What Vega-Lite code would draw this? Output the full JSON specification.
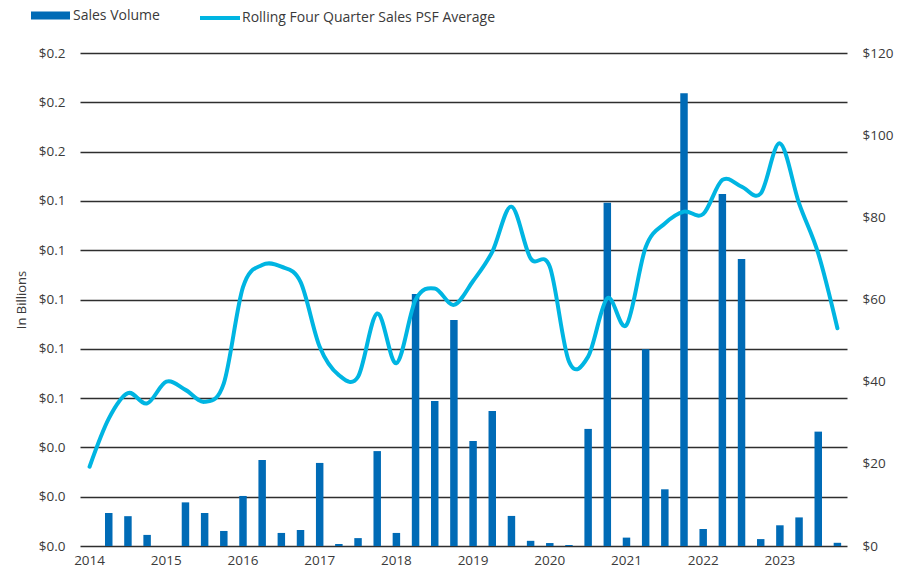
{
  "$schema": "https://vega.github.io/schema/vega-lite/v6.json",
  "width": 767,
  "height": 493,
  "autosize": {"type": "none"},
  "padding": {"left": 80, "top": 53, "right": 62, "bottom": 30},
  "background": "white",
  "config": {
    "font": "Open Sans",
    "view": {"stroke": null},
    "axis": {"labelFont": "Open Sans", "labelFontSize": 13.5, "labelColor": "#3a3a3a", "titleFont": "Open Sans", "titleFontSize": 13, "titleColor": "#3a3a3a", "titleFontWeight": "normal"},
    "legend": {"labelFont": "Open Sans", "labelFontSize": 14, "labelColor": "#3a3a3a", "labelLimit": 500}
  },
  "data": {
    "values": [
      {"quarter": "2014 Q1", "volume": 0, "psf": 19.3},
      {"quarter": "2014 Q2", "volume": 0.0134, "psf": 31.0},
      {"quarter": "2014 Q3", "volume": 0.0121, "psf": 37.2},
      {"quarter": "2014 Q4", "volume": 0.0045, "psf": 34.7},
      {"quarter": "2015 Q1", "volume": 0, "psf": 40.0},
      {"quarter": "2015 Q2", "volume": 0.0177, "psf": 38.0},
      {"quarter": "2015 Q3", "volume": 0.0134, "psf": 35.1},
      {"quarter": "2015 Q4", "volume": 0.0061, "psf": 39.6},
      {"quarter": "2016 Q1", "volume": 0.0203, "psf": 63.0},
      {"quarter": "2016 Q2", "volume": 0.0349, "psf": 68.4},
      {"quarter": "2016 Q3", "volume": 0.0053, "psf": 68.0},
      {"quarter": "2016 Q4", "volume": 0.0065, "psf": 64.3},
      {"quarter": "2017 Q1", "volume": 0.0337, "psf": 48.5},
      {"quarter": "2017 Q2", "volume": 0.0008, "psf": 41.6},
      {"quarter": "2017 Q3", "volume": 0.0032, "psf": 41.2},
      {"quarter": "2017 Q4", "volume": 0.0385, "psf": 56.6},
      {"quarter": "2018 Q1", "volume": 0.0053, "psf": 44.5},
      {"quarter": "2018 Q2", "volume": 0.1022, "psf": 59.9},
      {"quarter": "2018 Q3", "volume": 0.0588, "psf": 62.7},
      {"quarter": "2018 Q4", "volume": 0.0917, "psf": 58.7},
      {"quarter": "2019 Q1", "volume": 0.0426, "psf": 64.5},
      {"quarter": "2019 Q2", "volume": 0.0548, "psf": 71.6},
      {"quarter": "2019 Q3", "volume": 0.0122, "psf": 82.6},
      {"quarter": "2019 Q4", "volume": 0.0021, "psf": 70.0},
      {"quarter": "2020 Q1", "volume": 0.0012, "psf": 68.0},
      {"quarter": "2020 Q2", "volume": 0.0004, "psf": 44.9},
      {"quarter": "2020 Q3", "volume": 0.0475, "psf": 46.1},
      {"quarter": "2020 Q4", "volume": 0.1393, "psf": 60.3},
      {"quarter": "2021 Q1", "volume": 0.0034, "psf": 53.8},
      {"quarter": "2021 Q2", "volume": 0.0798, "psf": 72.7},
      {"quarter": "2021 Q3", "volume": 0.0230, "psf": 78.5},
      {"quarter": "2021 Q4", "volume": 0.1837, "psf": 81.4},
      {"quarter": "2022 Q1", "volume": 0.0069, "psf": 80.8},
      {"quarter": "2022 Q2", "volume": 0.1428, "psf": 89.1},
      {"quarter": "2022 Q3", "volume": 0.1164, "psf": 87.5},
      {"quarter": "2022 Q4", "volume": 0.0028, "psf": 85.8},
      {"quarter": "2023 Q1", "volume": 0.0084, "psf": 98.0},
      {"quarter": "2023 Q2", "volume": 0.0116, "psf": 83.4},
      {"quarter": "2023 Q3", "volume": 0.0464, "psf": 71.2},
      {"quarter": "2023 Q4", "volume": 0.0013, "psf": 53.0}
    ]
  },
  "encoding": {
    "x": {
      "field": "quarter",
      "type": "ordinal",
      "sort": null,
      "scale": {"paddingInner": 0.61, "paddingOuter": 0.305},
      "axis": {
        "title": null,
        "labelAngle": 0,
        "ticks": false,
        "tickSize": 0,
        "domain": false,
        "grid": false,
        "labelPadding": 7,
        "labelExpr": "slice(datum.value, 5) == 'Q1' ? slice(datum.value, 0, 4) : ''"
      }
    }
  },
  "layer": [
    {
      "mark": {"type": "bar", "color": "#006BB6"},
      "encoding": {
        "y": {
          "field": "volume",
          "type": "quantitative",
          "scale": {"domain": [0, 0.2], "nice": false},
          "axis": {
            "orient": "left",
            "title": "In Billions",
            "values": [0, 0.02, 0.04, 0.06, 0.08, 0.1, 0.12, 0.14, 0.16, 0.18, 0.2],
            "format": "$.1f",
            "grid": true,
            "gridColor": "#2e2e2e",
            "gridWidth": 1.3,
            "gridOpacity": 1,
            "domain": false,
            "ticks": false,
            "tickSize": 0,
            "labelPadding": 15,
            "titlePadding": 10
          }
        },
        "color": {
          "datum": "Sales Volume",
          "type": "nominal",
          "scale": {"range": ["#006BB6"]},
          "legend": {
            "title": null,
            "orient": "none",
            "legendX": -49,
            "legendY": -57,
            "padding": 0,
            "symbolType": "M-1,-0.2H1V0.2H-1Z",
            "symbolSize": 1521,
            "symbolStrokeWidth": 0,
            "symbolOpacity": 1,
            "labelOffset": 3
          }
        }
      }
    },
    {
      "mark": {"type": "line", "color": "#00B5E2", "strokeWidth": 4, "interpolate": "cardinal", "strokeCap": "round"},
      "encoding": {
        "y": {
          "field": "psf",
          "type": "quantitative",
          "scale": {"domain": [0, 120], "nice": false},
          "axis": {
            "orient": "right",
            "title": null,
            "values": [0, 20, 40, 60, 80, 100, 120],
            "format": "$,.0f",
            "grid": false,
            "domain": false,
            "ticks": false,
            "tickSize": 0,
            "labelPadding": 15
          }
        },
        "color": {
          "datum": "Rolling Four Quarter Sales PSF Average",
          "type": "nominal",
          "scale": {"range": ["#00B5E2"]},
          "legend": {
            "title": null,
            "orient": "none",
            "legendX": 118,
            "legendY": -57,
            "padding": 0,
            "symbolType": "stroke",
            "symbolSize": 1600,
            "symbolStrokeWidth": 4,
            "labelOffset": 0
          }
        }
      }
    }
  ],
  "resolve": {"scale": {"y": "independent", "color": "independent"}}
}
